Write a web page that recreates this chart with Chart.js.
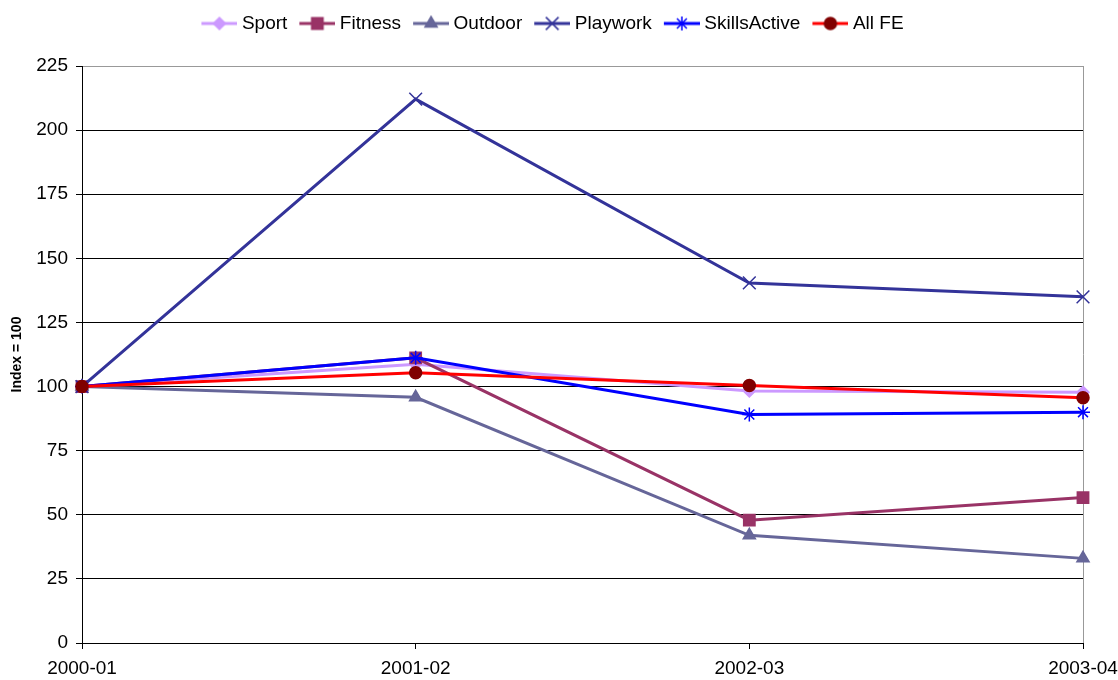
<!DOCTYPE html>
<html>
<head>
<meta charset="utf-8">
<script src="https://cdn.jsdelivr.net/npm/chart.js@4/dist/chart.umd.min.js"></script>
<style>
  html, body { margin: 0; padding: 0; background: #fff; }
  #wrap { width: 1118px; height: 680px; position: relative; }
</style>
</head>
<body>
<div id="wrap"><canvas id="chart"></canvas></div>
<script>
// data
const years = ["2000-01", "2001-02", "2002-03", "2003-04"];
const sport = [100, 108.7, 98.3, 97.8];
const fitness = [100, 111.2, 47.9, 56.7];
const outdoor = [100, 95.8, 42.0, 33.0];
const playwork = [100, 212.1, 140.4, 135.0];
const skillsActive = [100, 111.2, 89.1, 90.0];
const allFE = [100, 105.4, 100.4, 95.6];
const yTicks = [0, 25, 50, 75, 100, 125, 150, 175, 200, 225];

const FONT = "'Liberation Sans', Arial, sans-serif";

function series(label, data, lineColor, markerColor, style, radius) {
    return {
        label, data,
        borderColor: lineColor,
        backgroundColor: markerColor,
        pointBackgroundColor: markerColor,
        pointBorderColor: markerColor,
        pointStyle: style,
        pointRadius: radius,
        pointBorderWidth: 1.5,
        borderWidth: 3,
        tension: 0
    };
}

const datasets = [
    series("Sport", sport, "#CC99FF", "#CC99FF", "rectRot", 6),
    series("Fitness", fitness, "#993366", "#993366", "rect", 8),
    series("Outdoor", outdoor, "#666699", "#666699", "triangle", 7),
    series("Playwork", playwork, "#333399", "#333399", "crossRot", 9),
    series("SkillsActive", skillsActive, "#0000FF", "#0000FF", "star", 7),
    series("All FE", allFE, "#FF0000", "#800000", "circle", 6)
];
// later series sit on top
datasets.forEach((d, i) => { d.order = datasets.length - i; });

// legend swatch: short line with the marker in the middle
function swatch(d) {
    const c = document.createElement("canvas");
    c.width = 41; c.height = 18;
    const g = c.getContext("2d");
    g.strokeStyle = d.borderColor;
    g.lineWidth = 3;
    g.beginPath();
    g.moveTo(5, 9); g.lineTo(41, 9);
    g.stroke();
    g.fillStyle = d.pointBackgroundColor;
    g.strokeStyle = d.pointBorderColor;
    g.lineWidth = d.pointBorderWidth;
    Chart.helpers.drawPoint(g, { pointStyle: d.pointStyle, radius: d.pointRadius, borderWidth: d.pointBorderWidth, rotation: 0 }, 23, 9);
    return c;
}

// more room under the legend, and nudge it a bit right
const legendTweak = {
    id: "legendTweak",
    beforeInit(chart) {
        const lg = chart.legend;
        const fit = lg.fit;
        lg.fit = function () { fit.call(this); this.height += 23; };
        const draw = lg.draw;
        lg.draw = function () {
            const c = this.ctx;
            c.save();
            c.translate(11, 0);
            draw.call(this);
            c.restore();
        };
    }
};

new Chart(document.getElementById("chart"), {
    type: "line",
    data: { labels: years, datasets },
    plugins: [legendTweak],
    options: {
        responsive: true,
        maintainAspectRatio: false,
        animation: false,
        layout: { padding: { top: 2, right: 35, bottom: 0, left: 0 } },
        plugins: {
            tooltip: { enabled: false },
            legend: {
                position: "top",
                labels: {
                    font: { family: FONT, size: 19 },
                    color: "#000",
                    usePointStyle: true,
                    pointStyleWidth: 31,
                    padding: 12,
                    sort: (a, b) => a.datasetIndex - b.datasetIndex,
                    generateLabels: chart => chart.data.datasets.map((d, i) => ({
                        text: d.label,
                        datasetIndex: i,
                        pointStyle: swatch(d),
                        fillStyle: d.borderColor,
                        strokeStyle: d.borderColor,
                        lineWidth: 0,
                        fontColor: "#000",
                        hidden: false
                    }))
                }
            }
        },
        scales: {
            x: {
                offset: false,
                border: { color: "#000", width: 1 },
                grid: {
                    drawOnChartArea: true,
                    color: c => c.index === years.length - 1 ? "#999" : "transparent",
                    tickColor: "#000",
                    tickLength: 6
                },
                ticks: { font: { family: FONT, size: 19 }, color: "#000", maxRotation: 0, padding: 8 },
                afterFit: s => { s.height = 37; s.paddingLeft = 0; s.paddingRight = 0; }
            },
            y: {
                min: 0, max: 225,
                afterBuildTicks: s => { s.ticks = yTicks.map(v => ({ value: v })); },
                border: { color: "#000", width: 1 },
                grid: {
                    color: c => c.tick && c.tick.value === 225 ? "#999" : "#000",
                    tickColor: "#000",
                    tickLength: 6
                },
                ticks: { font: { family: FONT, size: 19 }, color: "#000", padding: 8 },
                title: {
                    display: true,
                    text: "Index = 100",
                    font: { family: FONT, size: 14, weight: "bold" },
                    color: "#000",
                    padding: { top: 9, bottom: 0 }
                },
                afterFit: s => { s.width = 82; }
            }
        }
    }
});
</script>
</body>
</html>
